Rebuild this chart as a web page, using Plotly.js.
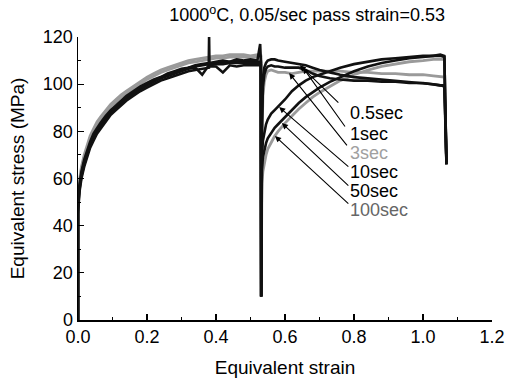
<!DOCTYPE html>
<html>
<head>
<meta charset="utf-8">
<script src="https://cdn.plot.ly/plotly-3.0.1.min.js"></script>
<style>html,body{margin:0;padding:0;background:#fff;}#chart{width:506px;height:381px;}</style>
</head>
<body>
<div id="chart"></div>
<script>
// ---- data ----
const strain1 = [0, 0, 0.004, 0.01, 0.018, 0.026, 0.035, 0.045, 0.055, 0.065, 0.08, 0.095, 0.11, 0.125, 0.14, 0.16, 0.18, 0.2, 0.22, 0.24, 0.26, 0.28, 0.3, 0.32, 0.34, 0.36, 0.379, 0.38, 0.381, 0.4, 0.42, 0.44, 0.46, 0.48, 0.5, 0.52, 0.528, 0.53, 0.531];
const strain2 = [0.531, 0.533, 0.536, 0.54, 0.545, 0.55, 0.56, 0.57, 0.58, 0.6, 0.62, 0.64, 0.66, 0.68, 0.7, 0.73, 0.76, 0.8, 0.84, 0.88, 0.92, 0.96, 1.0, 1.03, 1.05, 1.062, 1.065, 1.068];

const s05_pass1 = [0, 48, 57, 63, 68, 72, 75.5, 79, 81.5, 83.5, 86.5, 89, 91, 93, 95, 97, 99, 100.5, 102, 103, 104.5, 105.5, 106.5, 107, 108, 108.5, 109, 120, 109, 109.5, 110, 109.5, 110.5, 110, 110.5, 110, 117, 110, 10];
const s1_pass1 = [0, 45, 54, 60, 65, 69, 73, 76, 79, 81, 84, 87, 89, 91, 93, 95, 97, 98.5, 100, 101.5, 102.5, 103.5, 104.5, 105.5, 106, 106.5, 107, 107, 107.5, 107.5, 105, 108, 107.5, 108, 108, 108, 108, 108, 10];
const s3_pass1 = [0, 50, 59, 65, 70, 74, 78, 81, 84, 86, 89, 91.5, 93.5, 95.5, 97, 99, 101, 103, 104.5, 106, 107, 108, 109, 110, 110.5, 111, 111.5, 111.5, 111.5, 112, 112, 112.5, 112.5, 112.5, 112, 112.5, 112, 112, 10];
const s10_pass1 = [0, 46, 55, 61, 66, 70, 74, 77, 80, 82, 85, 88, 90, 92, 94, 96, 98, 99.5, 101, 102.5, 103.5, 104.5, 105.5, 106.5, 107, 104, 108, 108, 108, 108.5, 108.5, 109, 109, 109, 109, 109, 109, 109, 10];
const s50_pass1 = [0, 47, 56, 62, 67, 71, 74.5, 78, 80.5, 82.5, 85.5, 88, 90, 92, 94, 96, 98, 100, 101.5, 103, 104, 105, 106, 107, 107.5, 108, 108.5, 108.5, 108.5, 109, 109, 109.5, 109.5, 109.5, 109.5, 109.5, 109.5, 109.5, 10];
const s100_pass1 = [0, 49, 58, 64, 69, 73, 77, 80, 83, 85, 88, 90.5, 92.5, 94.5, 96, 98, 100, 102, 103.5, 105, 106, 107, 108, 109, 109.5, 110, 110.5, 110.5, 110.5, 111, 111, 111.5, 111.5, 111.5, 111.5, 111.5, 111.5, 111.5, 10];

const s05_pass2 = [10, 85, 102, 107, 109, 110, 110.5, 110.5, 110, 109.5, 109, 108.5, 108, 107, 106, 105, 104, 103, 102.5, 102, 101.5, 101, 100.5, 100, 99.5, 99.5, 85, 67];
const s1_pass2 = [10, 80, 99, 104, 106.5, 107.5, 108, 107.5, 107.5, 107, 107, 107, 106, 104.5, 103.5, 102.5, 102, 101.5, 101.5, 101, 101, 100.5, 100.5, 100, 99.5, 99, 84, 66];
const s3_pass2 = [10, 75, 95, 101, 104, 105.5, 106, 105.5, 105, 105, 104.5, 105, 105.5, 105.5, 105.5, 105.5, 105.5, 105, 105, 104.5, 104.5, 104, 104, 103.5, 103, 103, 85, 68];
const s10_pass2 = [10, 70, 76, 80, 83, 85, 87.5, 89, 90.5, 93.5, 97, 99.5, 101.5, 103, 104, 105.5, 107, 108.5, 109.5, 110.5, 111, 111.5, 112, 112, 112.5, 112, 88, 66];
const s50_pass2 = [10, 64, 69, 72.5, 75, 77, 79.5, 81.5, 83, 86, 89, 92, 94.5, 96.5, 98.5, 101, 103, 105.5, 107.5, 109, 110, 111, 111.5, 112, 112, 111.5, 87, 66];
const s100_pass2 = [10, 58, 63, 67, 70, 72.5, 75.5, 78, 80, 83.5, 86.5, 89.5, 92, 94.5, 96.5, 99, 101.5, 104, 106, 107.5, 108.5, 109.5, 110, 110.5, 110.5, 110.5, 86, 67];

const holdLabels = ['0.5sec', '1sec', '3sec', '10sec', '50sec', '100sec'];
const xTickVals = [0, 0.2, 0.4, 0.6, 0.8, 1.0, 1.2];
const yTickVals = [0, 20, 40, 60, 80, 100, 120];

// ---- styling ----
const FONT = 'Liberation Sans, Arial, Helvetica, sans-serif';
const BLACK = '#111111';
const GRAY = '#9a9a9a';

const curves = [
  {name: '3sec',   p1: s3_pass1,   p2: s3_pass2,   color: GRAY,  width: 2.8},
  {name: '100sec', p1: s100_pass1, p2: s100_pass2, color: GRAY,  width: 2.8},
  {name: '50sec',  p1: s50_pass1,  p2: s50_pass2,  color: BLACK, width: 2.6},
  {name: '10sec',  p1: s10_pass1,  p2: s10_pass2,  color: BLACK, width: 2.6},
  {name: '1sec',   p1: s1_pass1,   p2: s1_pass2,   color: BLACK, width: 2.6},
  {name: '0.5sec', p1: s05_pass1,  p2: s05_pass2,  color: BLACK, width: 2.6}
];

const traces = curves.map(c => ({
  type: 'scatter', mode: 'lines', name: c.name,
  x: strain1.concat(strain2),
  y: c.p1.concat(c.p2),
  line: {color: c.color, width: c.width},
  hoverinfo: 'skip'
}));

// arrow tips / tails and label anchors (layout positions)
const tipX = [0.643, 0.652, 0.612, 0.583, 0.591, 0.571];
const tipY = [108, 107, 104.7, 90.3, 83.5, 78];
const tailX = [0.759, 0.777, 0.783, 0.788, 0.788, 0.788];
const tailY = [91.6, 81.4, 73.4, 64.5, 56.4, 48.8];
const labelY = [87.8, 78.9, 70.8, 62.8, 54.7, 46.6];
const labelColors = ['#000', '#000', '#a0a0a0', '#000', '#000', '#666'];

const annotations = [];
holdLabels.forEach((lab, i) => {
  annotations.push({
    x: tipX[i], y: tipY[i], xref: 'x', yref: 'y',
    ax: tailX[i], ay: tailY[i], axref: 'x', ayref: 'y',
    text: '', showarrow: true, arrowhead: 2, arrowsize: 1.1, arrowwidth: 1.1,
    arrowcolor: '#000', standoff: 0, startstandoff: 0
  });
  annotations.push({
    x: 0.783, y: labelY[i], xref: 'x', yref: 'y',
    text: lab, showarrow: false, xanchor: 'left', yanchor: 'middle',
    font: {family: FONT, size: 18, color: labelColors[i]}
  });
});

const layout = {
  width: 506, height: 381,
  margin: {l: 78, r: 14, t: 37, b: 61, pad: 0},
  paper_bgcolor: '#fff', plot_bgcolor: '#fff',
  showlegend: false,
  font: {family: FONT, size: 18, color: '#000'},
  title: {
    text: '1000<sup>o</sup>C, 0.05/sec pass strain=0.53',
    font: {family: FONT, size: 18, color: '#000'},
    x: 280 / 506, xref: 'paper', xanchor: 'center',
    y: 1 - 15 / 381, yref: 'container', yanchor: 'middle'
  },
  xaxis: {
    range: [0, 1.2], tickvals: xTickVals, tickformat: '.1f',
    ticks: 'inside', ticklen: 6, tickwidth: 1.2, tickcolor: '#000',
    minor: {ticks: 'inside', ticklen: 3, dtick: 0.1, tick0: 0, tickcolor: '#000', tickwidth: 1},
    showline: true, linecolor: '#000', linewidth: 1.5, mirror: false,
    showgrid: false, zeroline: false,
    tickfont: {family: FONT, size: 18, color: '#000'},
    title: {text: 'Equivalent strain', font: {family: FONT, size: 19, color: '#000'}, standoff: 14},
    automargin: false
  },
  yaxis: {
    range: [0, 120], tickvals: yTickVals,
    ticks: 'inside', ticklen: 6, tickwidth: 1.2, tickcolor: '#000',
    minor: {ticks: 'inside', ticklen: 3, dtick: 10, tick0: 0, tickcolor: '#000', tickwidth: 1},
    showline: true, linecolor: '#000', linewidth: 1.5, mirror: false,
    showgrid: false, zeroline: false,
    tickfont: {family: FONT, size: 18, color: '#000'},
    title: {text: 'Equivalent stress (MPa)', font: {family: FONT, size: 19, color: '#000'}, standoff: 13},
    automargin: false
  },
  annotations: annotations
};

Plotly.newPlot('chart', traces, layout, {staticPlot: true, displayModeBar: false});
</script>
</body>
</html>
